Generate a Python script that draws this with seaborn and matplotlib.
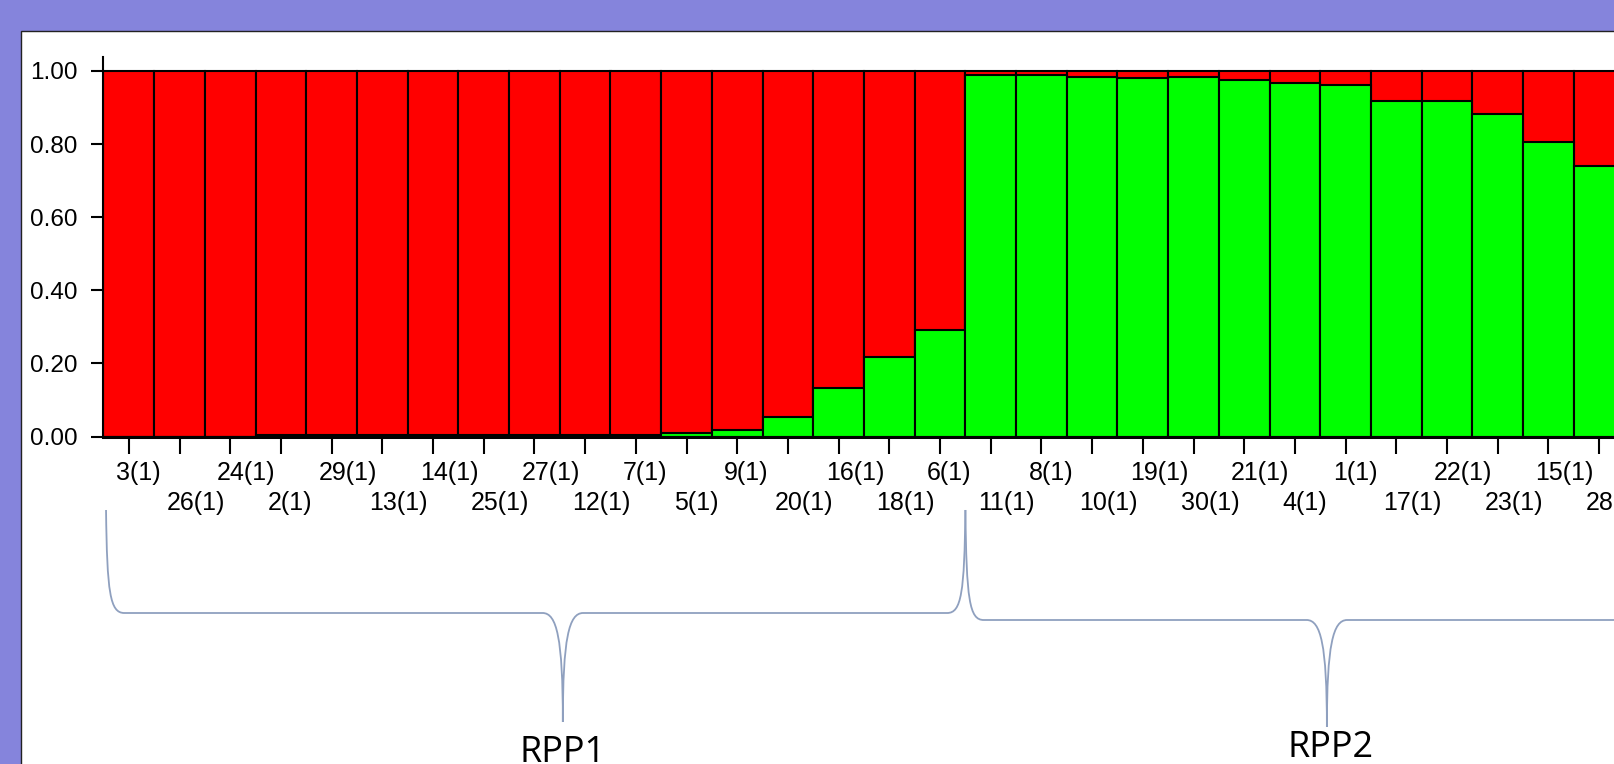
import numpy as np
import matplotlib
matplotlib.use("Agg")
import matplotlib.pyplot as plt
import matplotlib.transforms as mtransforms
from matplotlib.path import Path
from matplotlib.patches import PathPatch, Rectangle
import seaborn as sns

# individuals in plotted order (STRUCTURE bar plot, K=2)
individuals = ["3(1)", "26(1)", "24(1)", "2(1)", "29(1)", "13(1)", "14(1)", "25(1)",
               "27(1)", "12(1)", "7(1)", "5(1)", "9(1)", "20(1)", "16(1)", "18(1)",
               "6(1)", "11(1)", "8(1)", "10(1)", "19(1)", "30(1)", "21(1)", "4(1)",
               "1(1)", "17(1)", "22(1)", "23(1)", "15(1)", "28(1)"]

# membership coefficients
q_green = [0.0, 0.0, 0.0, 0.004, 0.004, 0.004, 0.004, 0.004, 0.004, 0.004,
           0.004, 0.010, 0.018, 0.054, 0.132, 0.218, 0.290, 0.988, 0.988, 0.982,
           0.980, 0.982, 0.975, 0.968, 0.961, 0.918, 0.918, 0.881, 0.805, 0.741]
q_red = [1.0, 1.0, 1.0, 0.996, 0.996, 0.996, 0.996, 0.996, 0.996, 0.996,
         0.996, 0.990, 0.982, 0.946, 0.868, 0.782, 0.710, 0.012, 0.012, 0.018,
         0.020, 0.018, 0.025, 0.032, 0.039, 0.082, 0.082, 0.119, 0.195, 0.259]

yticks = [0.0, 0.2, 0.4, 0.6, 0.8, 1.0]
ytick_labels = ["0.00", "0.20", "0.40", "0.60", "0.80", "1.00"]

groups = ["RPP1", "RPP2"]
group_sizes = [17, 13]

sns.set_style("white")
plt.rcParams["font.family"] = ["Liberation Sans", "DejaVu Sans"]
plt.rcParams["text.color"] = "black"

W, H = 1615, 764
fig = plt.figure(figsize=(W / 100, H / 100), dpi=100, facecolor="#8584dc")

# white panel with thin border
fig.add_artist(Rectangle((21 / W, -0.1), 1.2, (H - 31) / H + 0.1,
                         transform=fig.transFigure, fc="white", ec="#222222",
                         lw=1, zorder=-1))

bar_px = 50.7
ax = fig.add_axes([103.5 / W, (H - 436.5) / H, 30 * bar_px / W, 379.5 / H])
ax.set_facecolor("white")

total = np.add(q_red, q_green)
sns.barplot(x=individuals, y=total, order=individuals, color="#ff0000",
            saturation=1, width=1, edgecolor="black", linewidth=1.5, ax=ax)
sns.barplot(x=individuals, y=q_green, order=individuals, color="#00ff00",
            saturation=1, width=1, edgecolor="black", linewidth=1.5, ax=ax)

ax.set_xlim(-0.5, len(individuals) - 0.5)
ax.set_ylim(0, 1.038)
ax.set_xlabel("")
ax.set_ylabel("")
ax.set_yticks(yticks)
ax.set_yticklabels(ytick_labels)

for s in ["top", "right"]:
    ax.spines[s].set_visible(False)
ax.spines["left"].set_linewidth(1.5)
ax.spines["bottom"].set_linewidth(2.2)
ax.spines["left"].set_color("black")
ax.spines["bottom"].set_color("black")

ax.tick_params(axis="x", length=12.2, width=1.5, pad=5.5, labelsize=18,
               direction="out", color="black", labelcolor="black", bottom=True)
ax.tick_params(axis="y", length=8.6, width=1.5, pad=10, labelsize=17.5,
               direction="out", color="black", labelcolor="black", left=True)

# staggered x labels, left aligned a little before each tick
ax.set_xticks(range(len(individuals)))
ax.set_xticklabels(individuals)
shift = mtransforms.ScaledTranslation(-13 / 100, 0, fig.dpi_scale_trans)
for i, tick in enumerate(ax.xaxis.get_major_ticks()):
    if i % 2 == 1:
        tick.set_pad(27)
    tick.label1.set_horizontalalignment("left")
    tick.label1.set_transform(tick.label1.get_transform() + shift)

# group braces under the axis
blend = mtransforms.blended_transform_factory(ax.transData, fig.transFigure)


def fy(py):
    return 1 - py / H


def brace(x0, x1, xt, ytop, yh, ytip, color="#8fa0bf"):
    d = 0.36
    verts = [(x0, fy(ytop)),
             (x0 + 0.02, fy(yh - 20)), (x0 + 0.08, fy(yh)), (x0 + d, fy(yh)),
             (xt - 0.4, fy(yh)),
             (xt - 0.12, fy(yh)), (xt, fy(yh + 25)), (xt, fy(ytip)),
             (xt, fy(yh + 25)), (xt + 0.12, fy(yh)), (xt + 0.4, fy(yh)),
             (x1 - d, fy(yh)),
             (x1 - 0.08, fy(yh)), (x1 - 0.02, fy(yh - 20)), (x1, fy(ytop))]
    codes = [Path.MOVETO,
             Path.CURVE4, Path.CURVE4, Path.CURVE4,
             Path.LINETO,
             Path.CURVE4, Path.CURVE4, Path.CURVE4,
             Path.CURVE4, Path.CURVE4, Path.CURVE4,
             Path.LINETO,
             Path.CURVE4, Path.CURVE4, Path.CURVE4]
    fig.add_artist(PathPatch(Path(verts, codes), transform=blend, fill=False,
                             ec=color, lw=1.3))


starts = np.cumsum([0] + group_sizes[:-1]) - 0.5
ends = starts + np.array(group_sizes)
brace(starts[0] + 0.05, ends[0], 8.56, 510, 613, 722)
brace(ends[0], ends[1] + 1.5, 23.63, 510, 620, 727)

ax.text(8.56, fy(762), groups[0], transform=blend, ha="center", va="baseline",
        fontsize=26, family=["Open Sans", "DejaVu Sans"], clip_on=False)
ax.text(23.7, fy(757), groups[1], transform=blend, ha="center", va="baseline",
        fontsize=26, family=["Open Sans", "DejaVu Sans"], clip_on=False)

fig.savefig("out.png", dpi=100, facecolor=fig.get_facecolor())
